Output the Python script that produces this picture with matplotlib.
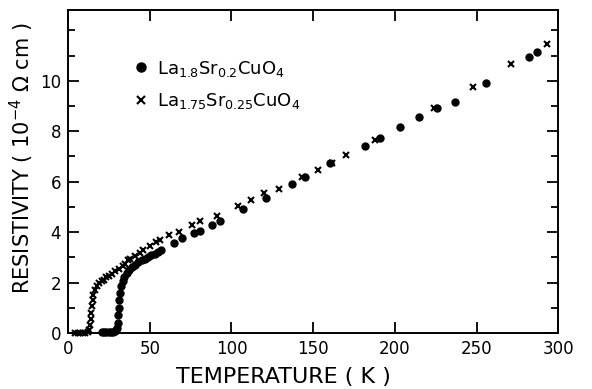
import matplotlib
matplotlib.use("Agg")
import matplotlib.pyplot as plt
from matplotlib.ticker import MultipleLocator

# La1.8 Sr0.2 CuO4 (filled circles)
t_circ = [20.5, 22, 23.5, 25, 26.5, 27.5, 28.5, 29.5, 30, 30.5, 30.8, 31, 31.3,
          31.8, 32.5, 33.5, 34.5, 36, 37.5, 39, 41, 43, 45, 47, 49, 51, 53, 55,
          57, 65, 70, 77, 80.5, 88, 93, 107, 121, 137, 145, 160, 182, 191, 203,
          215, 226, 237, 256, 282, 287]
r_circ = [0.03, 0.02, 0.03, 0.03, 0.04, 0.05, 0.06, 0.1, 0.2, 0.4, 0.7, 1.0, 1.3,
          1.6, 1.85, 2.05, 2.2, 2.38, 2.5, 2.6, 2.7, 2.8, 2.88, 2.95, 3.02, 3.08,
          3.15, 3.2, 3.3, 3.55, 3.75, 3.95, 4.05, 4.3, 4.42, 4.9, 5.36, 5.91,
          6.19, 6.72, 7.42, 7.74, 8.15, 8.57, 8.93, 9.17, 9.92, 10.95, 11.15]

# La1.75 Sr0.25 CuO4 (crosses)
t_cross = [4.3, 6, 7.5, 9, 10.5, 12, 13, 13.5, 14, 14.3, 14.6, 15, 15.5, 16.3,
           17.5, 19, 20.5, 22, 23.5, 25, 27, 29, 31, 33.5, 35, 36.5, 38, 41, 44,
           46, 50, 54, 56, 62, 68, 75.6, 81, 91, 104, 112, 120, 129, 143, 153,
           161.5, 170, 188, 224, 248, 271, 293]
r_cross = [0, 0, 0, 0, 0, 0.02, 0.1, 0.3, 0.55, 0.8, 1.05, 1.3, 1.5, 1.7, 1.85,
           1.97, 2.05, 2.12, 2.2, 2.27, 2.35, 2.45, 2.55, 2.65, 2.75, 2.9, 2.95,
           3.05, 3.18, 3.3, 3.45, 3.6, 3.67, 3.9, 4.0, 4.3, 4.42, 4.64, 5.04,
           5.26, 5.56, 5.71, 6.19, 6.47, 6.72, 7.06, 7.66, 8.93, 9.76, 10.67,
           11.47]

fig = plt.figure(figsize=(5.92, 3.89), dpi=100)
ax = fig.add_axes([0.115, 0.144, 0.828, 0.830])

ax.plot(t_circ, r_circ, "o", color="black", markersize=5, clip_on=False,
        label="La$_{1.8}$Sr$_{0.2}$CuO$_4$")
ax.plot(t_cross, r_cross, "x", color="black", markersize=4, markeredgewidth=1.5,
        clip_on=False, label="La$_{1.75}$Sr$_{0.25}$CuO$_4$")

ax.set_xlim(0, 300)
ax.set_ylim(0, 12.8)
ax.xaxis.set_major_locator(MultipleLocator(50))
ax.yaxis.set_major_locator(MultipleLocator(2))
ax.yaxis.set_minor_locator(MultipleLocator(1))
ax.set_yticks(range(0, 11, 2))
ax.tick_params(which="both", direction="in", top=True, right=True, width=1.3,
               labelsize=12, pad=5)
ax.tick_params(which="major", length=8)
ax.tick_params(which="minor", length=5)
for s in ax.spines.values():
    s.set_linewidth(1.4)

ax.set_xlabel("TEMPERATURE ( K )", fontsize=16)
ax.xaxis.set_label_coords(0.44, -0.105)
ax.set_ylabel(r"RESISTIVITY ( 10$^{-4}$ $\Omega$ cm )", fontsize=15)
ax.yaxis.set_label_coords(-0.066, 0.54)

ax.legend(loc="upper left", bbox_to_anchor=(0.1, 0.90), frameon=False,
          fontsize=13, handlelength=0.8, handletextpad=0.5, labelspacing=0.7,
          markerscale=1.3)

fig.savefig("out.png", dpi=100)
